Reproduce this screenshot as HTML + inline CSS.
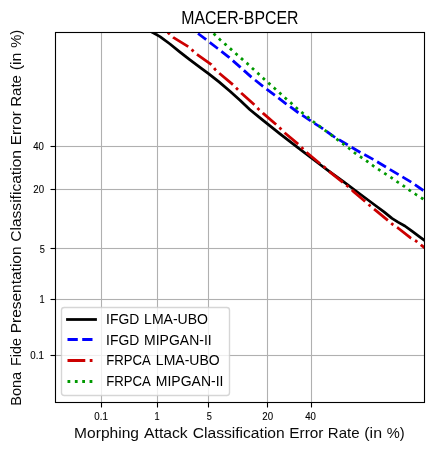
<!DOCTYPE html>
<html><head><meta charset="utf-8"><title>MACER-BPCER</title>
<style>
html,body{margin:0;padding:0;background:#fff;}
svg{display:block;will-change:transform;}
text{font-family:"Liberation Sans",sans-serif;fill:#000;font-kerning:none;}
</style></head><body>
<svg width="434" height="451" viewBox="0 0 434 451">
<rect width="434" height="451" fill="#fff"/>
<defs><clipPath id="ax"><rect x="55.50" y="32.50" width="369.00" height="370.00"/></clipPath></defs>

<g fill="#b0b0b0" stroke="none">
<rect x="100.945" y="32.5" width="1.11" height="370.0"/>
<rect x="156.945" y="32.5" width="1.11" height="370.0"/>
<rect x="207.945" y="32.5" width="1.11" height="370.0"/>
<rect x="266.945" y="32.5" width="1.11" height="370.0"/>
<rect x="310.945" y="32.5" width="1.11" height="370.0"/>
<rect x="55.5" y="145.945" width="369.0" height="1.11"/>
<rect x="55.5" y="188.945" width="369.0" height="1.11"/>
<rect x="55.5" y="247.945" width="369.0" height="1.11"/>
<rect x="55.5" y="298.945" width="369.0" height="1.11"/>
<rect x="55.5" y="354.945" width="369.0" height="1.11"/>
</g>
<g clip-path="url(#ax)" fill="none" stroke-width="2.78" stroke-linejoin="round">
<polyline points="145.00,27.80 150.00,31.00 160.00,36.60 170.00,44.00 180.00,52.10 190.00,59.90 200.00,67.30 208.50,73.60 219.00,81.90 230.00,91.20 240.00,100.20 250.00,109.70 260.00,117.90 270.00,125.90 280.00,133.90 296.90,146.90 320.00,164.50 328.20,170.60 343.80,181.90 360.00,194.00 376.10,206.00 384.00,211.90 392.00,218.40 398.00,222.10 404.90,226.00 412.00,231.20 420.00,237.10 424.80,240.70" stroke="#000" stroke-linecap="square"/>
<polyline points="198.00,33.50 206.30,39.80 217.70,48.50 229.40,57.70 240.50,67.40 251.40,77.10 263.00,86.30 274.70,95.20 286.10,103.80 298.10,112.50 310.00,120.40 322.00,128.20 333.90,136.60 346.60,144.20 360.60,152.60 373.20,159.40 385.90,167.00 398.60,174.60 411.30,182.20 424.80,191.50" stroke="#0000ff" stroke-dasharray="10.28 4.44"/>
<polyline points="167.60,32.30 173.20,37.40 188.40,46.70 192.50,50.40 196.90,54.30 211.40,64.60 214.90,69.20 219.30,73.30 232.90,84.70 237.20,89.00 241.50,93.30 254.40,104.80 258.40,109.00 263.20,113.40 276.10,124.50 280.40,128.50 284.90,133.00 298.20,144.10 302.40,148.30 307.00,152.80 319.90,163.50 324.90,167.50 329.70,171.80 348.00,186.50 353.00,191.10 365.70,202.00 370.30,206.00 375.40,210.10 388.10,220.50 392.70,224.50 398.00,228.00 410.60,237.90 416.40,241.30 421.50,245.30 424.80,248.00" stroke="#cc0000" stroke-dasharray="17.78 4.44 2.78 4.44" stroke-dashoffset="22.0"/>
<polyline points="212.20,32.30 214.60,34.50 220.10,39.75 225.70,44.60 231.10,49.40 236.60,54.30 242.10,59.10 247.70,63.90 252.90,68.80 258.40,73.80 264.00,79.00 269.50,83.90 275.00,88.70 280.60,93.70 286.10,98.70 291.60,103.50 297.10,108.50 302.70,113.10 308.60,117.70 314.10,122.30 319.30,126.00 349.20,148.50 355.00,153.10 361.30,157.40 367.40,161.50 373.20,165.80 379.60,170.10 385.40,173.90 391.70,177.90 397.80,182.20 403.70,186.00 410.00,190.60 415.80,194.40 422.70,198.70 424.80,200.00" stroke="#009900" stroke-dasharray="2.78 4.58" stroke-dashoffset="5.5"/>
</g>
<g stroke="#000" stroke-width="1.11">
<line x1="101.5" y1="402.5" x2="101.5" y2="407.5"/>
<line x1="157.5" y1="402.5" x2="157.5" y2="407.5"/>
<line x1="208.5" y1="402.5" x2="208.5" y2="407.5"/>
<line x1="267.5" y1="402.5" x2="267.5" y2="407.5"/>
<line x1="311.5" y1="402.5" x2="311.5" y2="407.5"/>
<line x1="50.5" y1="146.5" x2="55.5" y2="146.5"/>
<line x1="50.5" y1="189.5" x2="55.5" y2="189.5"/>
<line x1="50.5" y1="248.5" x2="55.5" y2="248.5"/>
<line x1="50.5" y1="299.5" x2="55.5" y2="299.5"/>
<line x1="50.5" y1="355.5" x2="55.5" y2="355.5"/>
</g>
<rect x="55.5" y="32.5" width="369.00" height="370.00" fill="none" stroke="#000" stroke-width="1.11"/>
<g stroke="#000" stroke-width="0.1">
<text transform="translate(94.291,420.00) scale(0.9441,1)" font-size="10.3">0.1</text>
<text transform="translate(154.563,420.00) scale(0.8919,1)" font-size="10.3">1</text>
<text transform="translate(206.630,420.00) scale(0.8962,1)" font-size="10.3">5</text>
<text transform="translate(262.276,420.00) scale(0.9435,1)" font-size="10.3">20</text>
<text transform="translate(305.250,420.00) scale(0.9345,1)" font-size="10.3">40</text>
<text transform="translate(33.250,149.87) scale(0.9345,1)" font-size="10.3">40</text>
<text transform="translate(33.276,193.00) scale(0.9435,1)" font-size="10.3">20</text>
<text transform="translate(39.630,252.83) scale(0.8962,1)" font-size="10.3">5</text>
<text transform="translate(39.563,302.96) scale(0.8919,1)" font-size="10.3">1</text>
<text transform="translate(30.291,358.98) scale(0.9441,1)" font-size="10.3">0.1</text>
</g>
<text transform="translate(181.322,24.00) scale(0.9069,1)" font-size="17.5">MACER-BPCER</text>
<text transform="translate(74.095,438.00) scale(1.0664,1)" font-size="14.6" style="fill:#0a0a0a">Morphing</text>
<text transform="translate(144.020,438.00) scale(1.0785,1)" font-size="14.6" style="fill:#0a0a0a">Attack</text>
<text transform="translate(192.740,438.00) scale(1.0700,1)" font-size="14.6" style="fill:#0a0a0a">Classification</text>
<text transform="translate(289.363,438.00) scale(1.0524,1)" font-size="14.6" style="fill:#0a0a0a">Error</text>
<text transform="translate(327.764,438.00) scale(1.0317,1)" font-size="14.6" style="fill:#0a0a0a">Rate</text>
<text transform="translate(364.284,438.00) scale(1.0942,1)" font-size="14.6" style="fill:#0a0a0a">(in</text>
<text transform="translate(386.763,438.00) scale(1.0051,1)" font-size="14.6" style="fill:#0a0a0a">%)</text>
<text transform="translate(21.00,405.818) rotate(-90) scale(0.9971,1)" font-size="14.6" style="fill:#0a0a0a">Bona</text>
<text transform="translate(21.00,365.933) rotate(-90) scale(0.9850,1)" font-size="14.6" style="fill:#0a0a0a">Fide</text>
<text transform="translate(21.00,333.270) rotate(-90) scale(1.0600,1)" font-size="14.6" style="fill:#0a0a0a">Presentation</text>
<text transform="translate(21.00,241.791) rotate(-90) scale(1.0674,1)" font-size="14.6" style="fill:#0a0a0a">Classification</text>
<text transform="translate(21.00,145.256) rotate(-90) scale(1.0520,1)" font-size="14.6" style="fill:#0a0a0a">Error</text>
<text transform="translate(21.00,106.859) rotate(-90) scale(1.0313,1)" font-size="14.6" style="fill:#0a0a0a">Rate</text>
<text transform="translate(21.00,70.335) rotate(-90) scale(1.0934,1)" font-size="14.6" style="fill:#0a0a0a">(in</text>
<text transform="translate(21.00,47.856) rotate(-90) scale(1.0042,1)" font-size="14.6" style="fill:#0a0a0a">%)</text>
<rect x="61.5" y="307.5" width="168.0" height="88.0" rx="2.8" ry="2.8" fill="#fff" fill-opacity="0.8" stroke="#ccc" stroke-opacity="0.8" stroke-width="1.39"/>
<g fill="none" stroke-width="2.78">
<line x1="66.1" y1="319.5" x2="96.9" y2="319.5" stroke="#000"/>
<line x1="67.5" y1="339.5" x2="95.4" y2="339.5" stroke="#0000ff" stroke-dasharray="10.28 4.44"/>
<line x1="67.5" y1="360.5" x2="95.4" y2="360.5" stroke="#cc0000" stroke-dasharray="17.78 4.44 2.78 4.44"/>
<line x1="67.5" y1="381.5" x2="95.4" y2="381.5" stroke="#009900" stroke-dasharray="2.78 4.58"/>
</g>
<text transform="translate(106.091,324.00) scale(0.9509,1)" font-size="14.6">IFGD</text>
<text transform="translate(144.095,324.00) scale(0.9619,1)" font-size="14.6">LMA-UBO</text>
<text transform="translate(106.091,345.00) scale(0.9509,1)" font-size="14.6">IFGD</text>
<text transform="translate(144.099,345.00) scale(0.9584,1)" font-size="14.6">MIPGAN-II</text>
<text transform="translate(106.288,365.00) scale(0.9024,1)" font-size="14.6">FRPCA</text>
<text transform="translate(155.851,365.00) scale(0.9594,1)" font-size="14.6">LMA-UBO</text>
<text transform="translate(106.292,386.00) scale(0.9023,1)" font-size="14.6">FRPCA</text>
<text transform="translate(155.852,386.00) scale(0.9583,1)" font-size="14.6">MIPGAN-II</text>
</svg></body></html>
